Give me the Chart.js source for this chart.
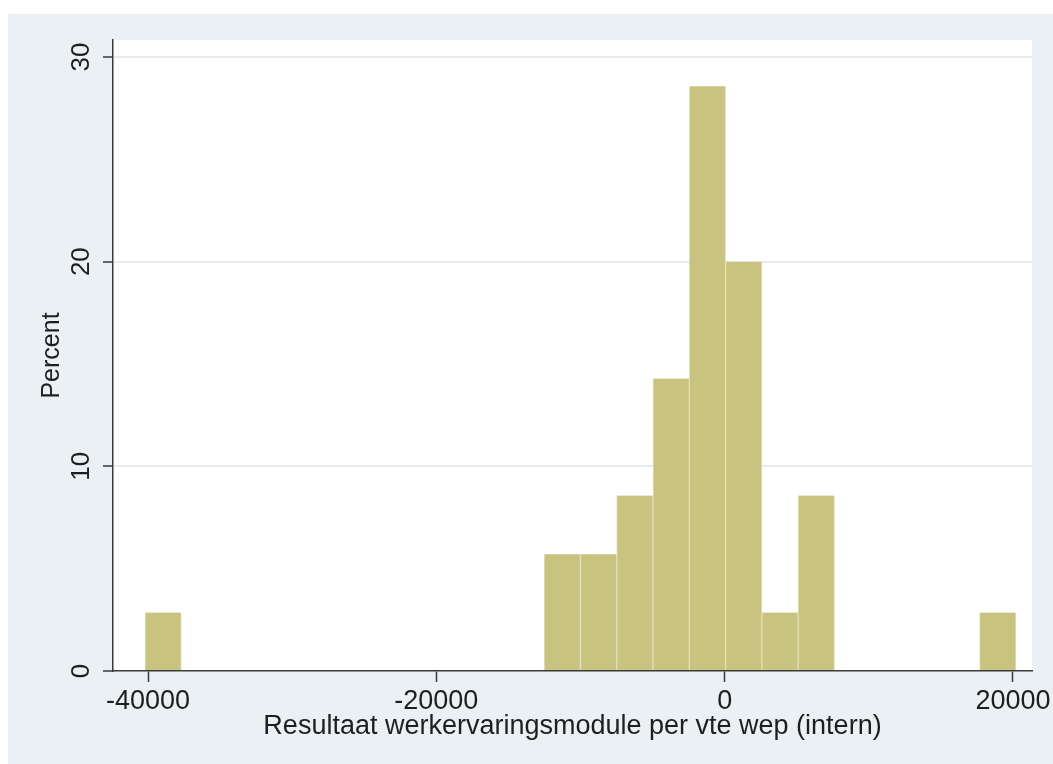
<!DOCTYPE html>
<html>
<head>
<meta charset="utf-8">
<script src="https://cdn.jsdelivr.net/npm/chart.js@4/dist/chart.umd.min.js"></script>
<style>
  html, body { margin: 0; padding: 0; background: #fff; }
  #wrap { width: 1053px; height: 764px; position: relative; }
</style>
</head>
<body>
<div id="wrap"><canvas id="hist"></canvas></div>
<script>
// histogram bins (centre of each non-empty bin) and their share in percent
const binCenters = [-38950, -11263, -8746, -6229, -3712, -1195, 1323, 3840, 6357, 18942];
const percents = [2.86, 5.71, 5.71, 8.57, 14.29, 28.57, 20.0, 2.86, 8.57, 2.86];
const xTicks = [-40000, -20000, 0, 20000];
const yTicks = [0, 10, 20, 30];
const xTitle = "Resultaat werkervaringsmodule per vte wep (intern)";
const yTitle = "Percent";

const axisColor = "#3a3a3a";
const textColor = "#1e1e1e";
const fontFamily = "'Liberation Sans', Arial, sans-serif";

// Stata-like backgrounds: light outer region, white plot region
const backdrop = {
  id: "backdrop",
  beforeDraw(chart) {
    const { ctx, chartArea: a, width, height } = chart;
    ctx.save();
    ctx.fillStyle = "#ffffff";
    ctx.fillRect(0, 0, width, height);
    ctx.fillStyle = "#eaf0f3";
    ctx.fillRect(8, 14, width - 8, height - 14);
    ctx.fillStyle = "#ffffff";
    ctx.fillRect(a.left, a.top, a.right - a.left, a.bottom - a.top);
    ctx.restore();
  }
};

const points = binCenters.map((x, i) => ({ x: x, y: percents[i] }));

new Chart(document.getElementById("hist"), {
  type: "bar",
  data: {
    datasets: [{
      data: points,
      backgroundColor: "#c9c380",
      borderColor: "#e2deb4",
      borderWidth: { left: 1, right: 1, top: 0, bottom: 0 },
      barPercentage: 1,
      categoryPercentage: 1
    }]
  },
  options: {
    responsive: true,
    maintainAspectRatio: false,
    animation: false,
    layout: { padding: { left: 0, top: 40, right: 21, bottom: 0 } },
    plugins: { legend: { display: false }, tooltip: { enabled: false } },
    scales: {
      x: {
        type: "linear",
        min: -42428,
        max: 21318,
        offset: false,
        afterBuildTicks: s => { s.ticks = xTicks.map(v => ({ value: v })); },
        afterFit: s => { s.height = 93; s.paddingLeft = 0; s.paddingRight = 0; },
        grid: {
          offset: false,
          drawOnChartArea: false,
          tickLength: 11,
          tickColor: axisColor,
          tickWidth: 1.5
        },
        border: { color: axisColor, width: 1.5 },
        ticks: {
          color: textColor,
          padding: 3,
          maxRotation: 0,
          autoSkip: false,
          font: { family: fontFamily, size: 27 },
          callback: v => String(v)
        },
        title: {
          display: true,
          text: xTitle,
          color: textColor,
          font: { family: fontFamily, size: 27 },
          padding: { top: 0, bottom: 21 }
        }
      },
      y: {
        min: 0,
        max: 30.83,
        afterBuildTicks: s => { s.ticks = yTicks.map(v => ({ value: v })); },
        afterFit: s => { s.width = 113; s.paddingTop = 0; s.paddingBottom = 0; },
        grid: {
          color: c => (c.tick && c.tick.value === 0) ? "rgba(0,0,0,0)" : "#e5ebee",
          lineWidth: 2,
          tickLength: 10,
          tickColor: axisColor,
          tickWidth: 1.5
        },
        border: { color: axisColor, width: 1.5 },
        ticks: {
          color: textColor,
          padding: 7,
          minRotation: 90,
          maxRotation: 90,
          crossAlign: "center",
          font: { family: fontFamily, size: 26 },
          callback: v => String(v)
        },
        title: {
          display: true,
          text: yTitle,
          color: textColor,
          font: { family: fontFamily, size: 25 },
          padding: { top: 37, bottom: 0 }
        }
      }
    }
  },
  plugins: [backdrop]
});
</script>
</body>
</html>
